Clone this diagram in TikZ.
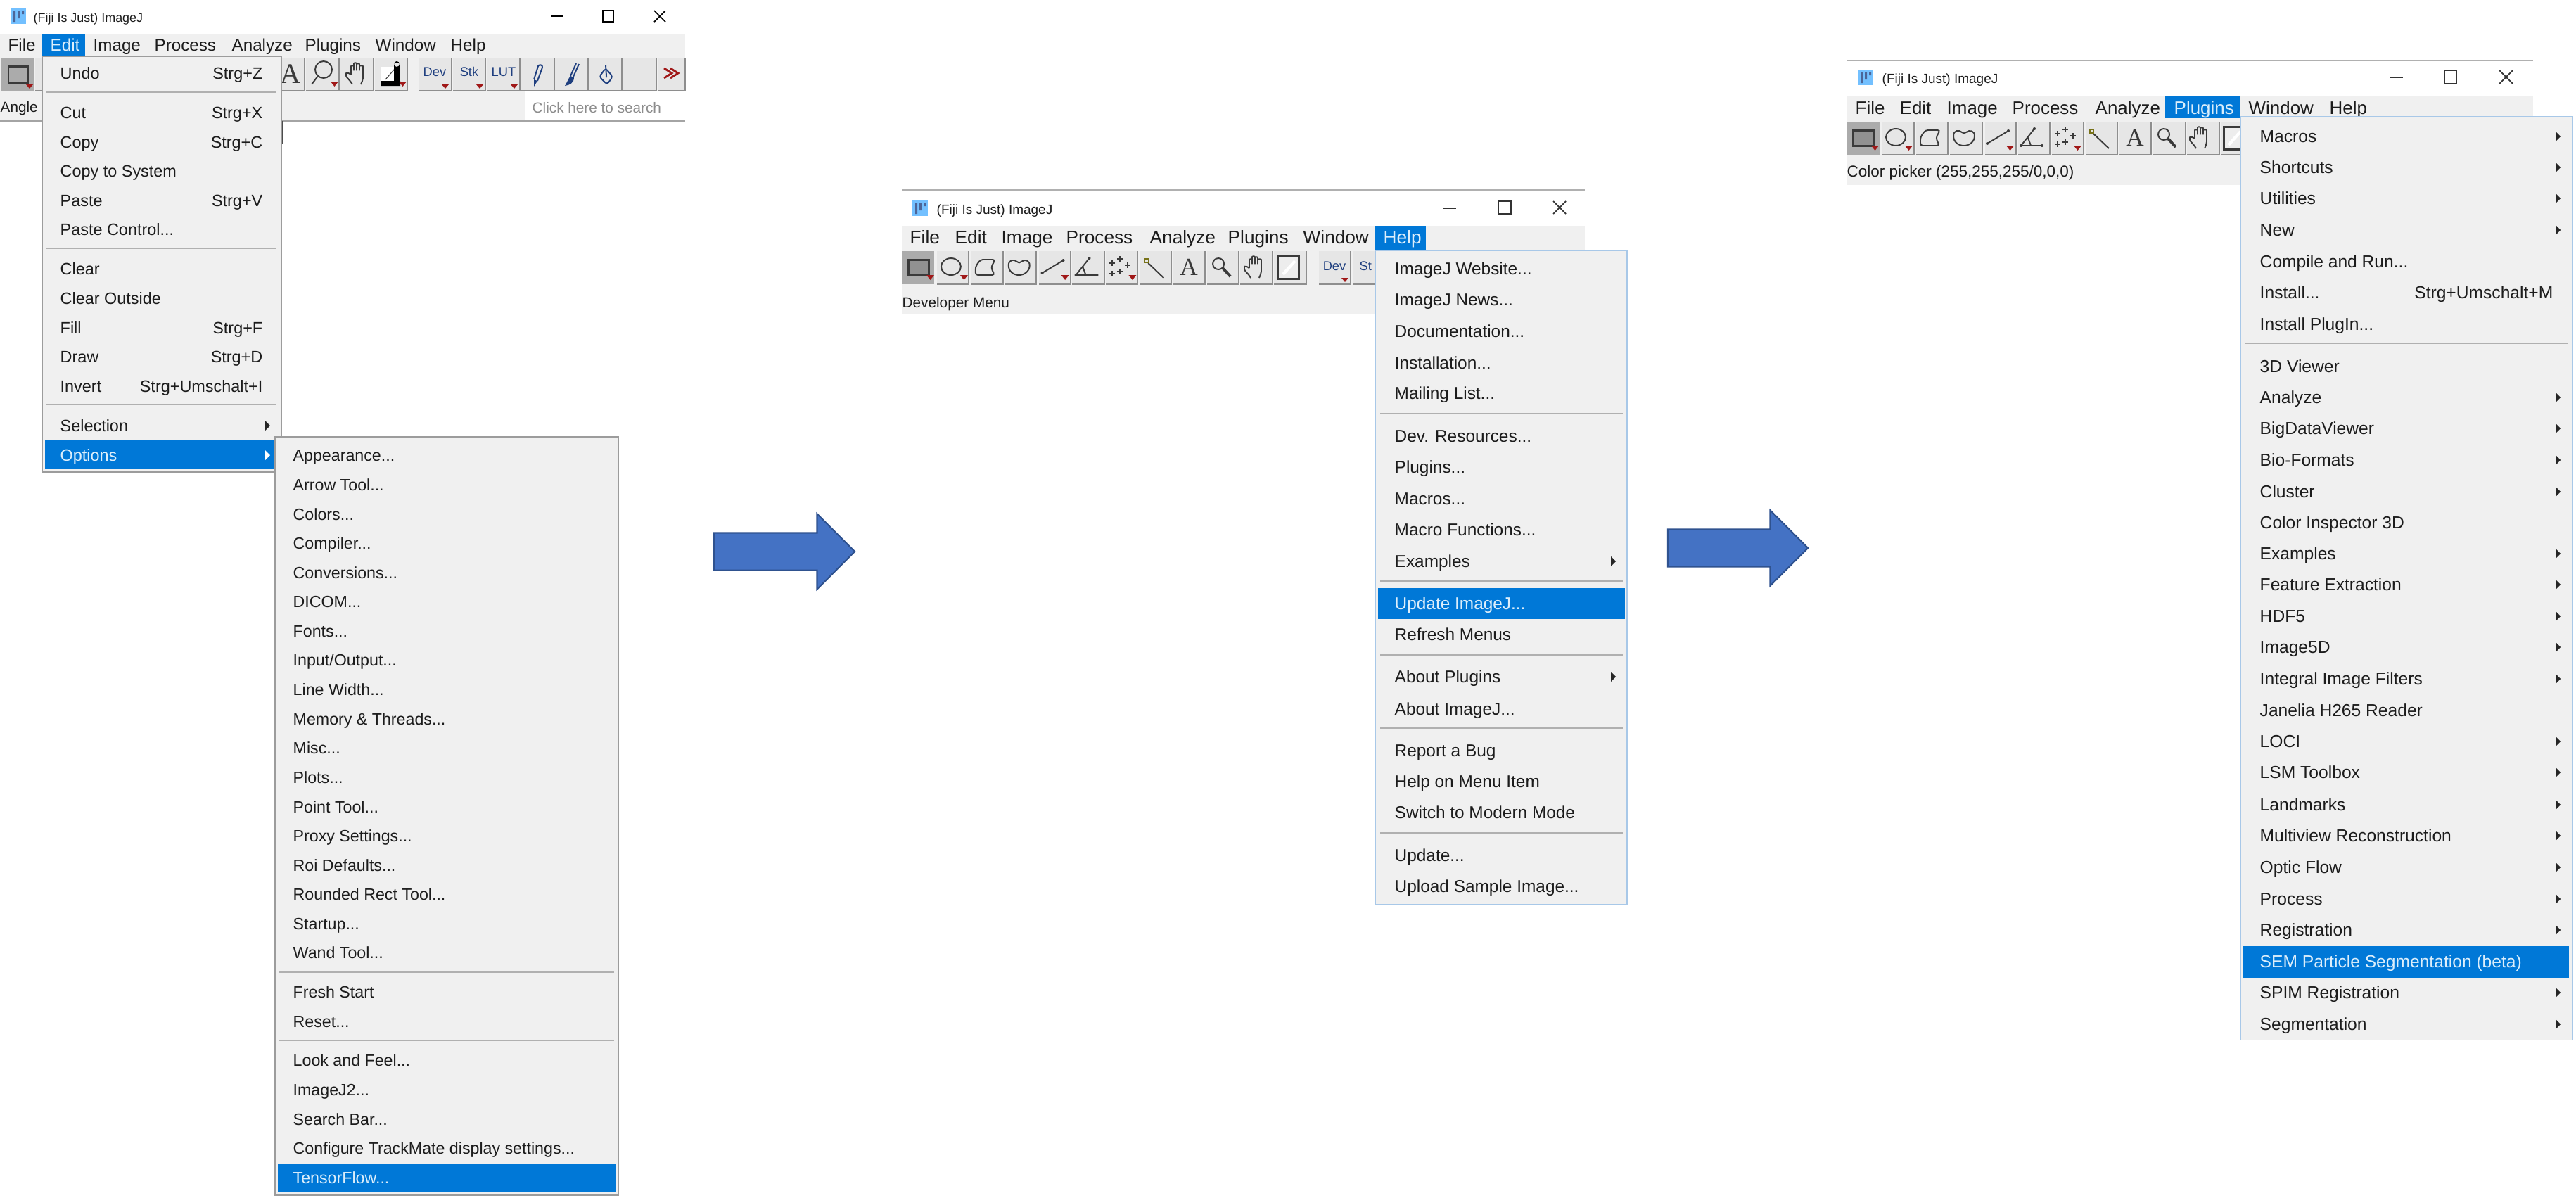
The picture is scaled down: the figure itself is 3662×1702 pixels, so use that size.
\documentclass[tikz,border=0pt]{standalone}
\usepackage{fontspec}
\setmainfont{Liberation Sans}
\newfontfamily\glyphfont{Liberation Serif}
\usetikzlibrary{shapes.arrows}

\definecolor{panelgray}{HTML}{F0F0F0}
\definecolor{btngray}{HTML}{E6E6E6}
\definecolor{btnedge}{HTML}{8E8E8E}
\definecolor{btnsel}{HTML}{ABABAB}
\definecolor{hotblue}{HTML}{0078D7}
\definecolor{hottext}{HTML}{DCEEFB}
\definecolor{inktext}{HTML}{1C1C1C}
\definecolor{icoink}{HTML}{3A3A3A}
\definecolor{navyink}{HTML}{1F3F7F}
\definecolor{redmark}{HTML}{A01818}
\definecolor{framegray}{HTML}{9C9C9C}
\definecolor{frameblue}{HTML}{A8C8E8}
\definecolor{arrowfill}{HTML}{4472C4}
\definecolor{arrowline}{HTML}{2F528F}

\tikzset{
  menuitem/.style={anchor=base west, inner sep=0pt, yshift=-0.085cm, text=inktext,
    font=\fontsize{#1}{8}\selectfont},
  keylabel/.style={menuitem=#1, anchor=base east},
  hot/.style={text=hottext},
  toollabel/.style={inner sep=0pt, text=navyink, font=\fontsize{5.2}{6}\selectfont},
  sepline/.style={draw=btnedge!70, line width=0.7pt},
  menuframe/.style={fill=panelgray, draw=#1, line width=0.6pt},
  icoline/.style={draw=icoink, line width=0.55pt},
  navyline/.style={draw=navyink, line width=0.55pt},
  bluearrow/.style={single arrow, anchor=tail, fill=arrowfill, draw=arrowline, line width=0.6pt,
    minimum height=#1, single arrow head extend=0.27cm,
    single arrow tip angle=90, single arrow head indent=0cm, inner xsep=0pt, inner ysep=0.255cm, outer sep=0pt},
  subarrow/.pic={\fill[black!85] (-3,-7) -- (4,0) -- (-3,7) -- cycle;},
  fijiico/.pic={
    \fill[blue!45!cyan!55!white] (-11,-11) rectangle (11,11);
    \fill[navyink!80] (-7,-8) rectangle (-4,8) (-1,-8) rectangle (2,3) (5,-8) rectangle (8,-3);},
  rectico/.pic={\draw[icoink, fill=btnsel!85!black, line width=0.85pt] (-14,-11) rectangle (15,11);
    \redmark},
  ovalico/.pic={\draw[icoline] (-1,-1) ellipse (14 and 12); \redmark},
  polyico/.pic={\draw[icoline, rounded corners=1pt] (-14,-1) -- (-7,-11) -- (14,-11) -- (8,0) -- (13,11) -- (-14,11) -- cycle;},
  freeico/.pic={\draw[icoline] (-15,-3) .. controls (-15,-11) and (-7,-12) .. (-3,-8)
    .. controls (-1,-6) and (1,-6) .. (3,-8) .. controls (8,-12) and (15,-10) .. (15,-3)
    .. controls (15,6) and (7,11) .. (0,11) .. controls (-8,11) and (-15,6) .. (-15,-3) -- cycle;},
  lineico/.pic={\draw[icoline] (-15,8) -- (15,-10); \fill[icoink] (-15,8) circle (2) (15,-10) circle (2); \redmark},
  angleico/.pic={\draw[icoline] (-15,11) -- (15,11) (-15,11) -- (4,-13) (-5,0) -- (-1,11);
    \fill[icoink] (-15,11) circle (2) (15,11) circle (2) (4,-13) circle (2);},
  ptsico/.pic={\foreach \px/\py in {-11/-6,0/-12,11/-3,-11/9,0/6}
      \draw[icoink, line width=0.55pt] (\px-4,\py) -- (\px+4,\py) (\px,\py-4) -- (\px,\py+4);
    \redmark},
  wandico/.pic={\draw[icoline] (-8,-6) -- (14,15);
    \draw[olive!80!black, line width=0.45pt] (-13,-12) rectangle (-8,-7);},
  lensico/.pic={\draw[icoline] (-4,-5) circle (8); \draw[icoink, line width=1.1pt] (2,1) -- (13,13);},
  handico/.pic={\draw[icoline, rounded corners=0.5pt] (-6,15) .. controls (-9,9) and (-15,5) .. (-15,1)
    .. controls (-15,-2) and (-10,-1) .. (-8,2) -- (-8,-9) .. controls (-8,-12) and (-4,-12) .. (-4,-9)
    -- (-4,-3) -- (-4,-13) .. controls (-4,-16) and (0,-16) .. (0,-13) -- (0,-3) -- (0,-12)
    .. controls (0,-15) and (4,-15) .. (4,-12) -- (4,-3) -- (4,-9) .. controls (4,-12) and (9,-12) .. (9,-9)
    -- (9,4) .. controls (9,9) and (7,12) .. (6,15);},
  pickico/.pic={\draw[icoink, fill=btngray!70!white, line width=0.85pt] (-15,-16) rectangle (15,16);
    \draw[white, line width=1.2pt] (-8,10) -- (9,-9);},
  biglensico/.pic={\draw[icoline] (2,-6) circle (12); \draw[icoline] (-6,3) -- (-15,15); \redmark},
  benchico/.pic={\fill[white] (-14,-10) rectangle (10,10);
    \draw[icoink, line width=0.3pt] (-7,8) -- (6,-7);
    \fill[black] (-14,10) rectangle (14,17) (5,-16) rectangle (13,17) (9,-14) circle (4); \redmark},
  penico/.pic={\draw[navyline] (-5,7) -- (1,-12) .. controls (2,-15) and (8,-14) .. (7,-10) -- (0,9);
    \fill[navyink] (-5,7) -- (0,9) -- (-5,17) -- cycle;},
  brushico/.pic={\draw[navyline] (-1,2) -- (7,-16) (3,3) -- (11,-15);
    \fill[navyink] (-1,2) -- (4,4) .. controls (4,12) and (-2,15) .. (-9,16) .. controls (-6,12) and (-5,7) .. (-1,2) -- cycle;},
  bucketico/.pic={\draw[navyline, rounded corners=1pt] (-9,3) -- (0,-9) -- (10,3) -- (2,14) -- cycle;
    \draw[navyline] (0,-14) -- (1,2); \fill[navyink] (1,3) circle (1.5);},
  moreico/.pic={\draw[redmark, line width=0.8pt] (-11,-7) -- (0,0) -- (-11,7) (-2,-7) -- (9,0) -- (-2,7);}
}
\newcommand{\redmark}{\fill[redmark] (12,11) -- (23,11) -- (17.5,18) -- cycle;}
\newcommand{\ddd}{...}
% row of tool buttons that windows two and three share
\newcommand{\toolrow}[3]{
  \foreach \n/\ic in {1/ovalico,2/polyico,3/freeico,4/lineico,5/angleico,6/ptsico,7/wandico,9/lensico,10/handico,11/pickico}
    \pic at ({#1+\n*#3},#2) {\ic};
  \pic at (#1,#2) {rectico};
}

\begin{document}
\begin{tikzpicture}[x=0.01cm,y=-0.01cm]
\useasboundingbox (0,0) rectangle (3662,1702);

% ---- first window
\fill[panelgray] (0,48) rectangle (974,172);
\fill[white] (747,130) rectangle (974,172);
\draw[btnedge!80, line width=0.6pt] (0,172) -- (974,172);
\pic at (26,23) {fijiico};
\node[menuitem=5.1] (titleA) at (47,23) {(Fiji Is Just) ImageJ};
\draw[black, line width=0.5pt] (783,23) -- (800,23);
\draw[black, line width=0.5pt] (857,15) rectangle (872,31);
\draw[black, line width=0.5pt] (930,15) -- (946,31) (946,15) -- (930,31);
\fill[btnsel] (2,82) rectangle (48,129);
\draw[icoink, fill=btnsel, line width=0.85pt] (12,94) rectangle (40,117);
\fill[redmark] (37,120) -- (47,120) -- (42,126) -- cycle;
\foreach \a/\b in {50/60,400/433,435/482,484/531,533/579,595/642,644/690,693/739,741/788,789/836,838/884,886/933,935/974}{
  \fill[btngray] (\a,82) rectangle (\b,129);
  \draw[btnedge, line width=0.5pt] (\b,82) -- (\b,129) -- (\a,129);
}
\node[inner sep=0pt, text=icoink, font=\glyphfont\fontsize{11.5}{12}\selectfont] (toolAchar) at (413,105) {A};
\pic at (458,105) {biglensico};
\pic at (507,105) {handico};
\pic at (555,105) {benchico};
\foreach \xx/\lab in {618/Dev,667/Stk,716/LUT}{
  \node[toollabel] (toolA\lab) at (\xx,102) {\lab};
  \fill[redmark] (\xx+10,120) -- (\xx+20,120) -- (\xx+15,126) -- cycle;
}
\pic at (764,106) {penico};
\pic at (812,106) {brushico};
\pic at (861,106) {bucketico};
\pic at (955,104) {moreico};
\node[menuitem=5.9] (angleA) at (0,151) {Angle};
\node[menuitem=5.9, text=black!45] (searchA) at (756,152) {Click here to search};
\fill[hotblue] (60,48) rectangle (121,79);
\foreach \xx/\lab in {11/File,132/Image,219/Process,329/Analyze,433/Plugins,533/Window,640/Help}
  \node[menuitem=6.88] (barA\lab) at (\xx,64) {\lab};
\node[menuitem=6.88, hot] (barAEdit) at (71,64) {Edit};

% edit menu
\draw[black!70, line width=0.6pt] (402,172) -- (402,205);
\draw[menuframe=framegray] (60,80) rectangle (400,671);
\foreach \y/\lab [count=\i] in {104/Undo,160/Cut,202/Copy,243/Copy to System,285/Paste,326/Paste Control\ddd,382/Clear,424/Clear Outside,466/Fill,507/Draw,549/Invert,605/Selection}
  \node[menuitem=6.66] (edit\i) at (85,\y) {\lab};
\foreach \y/\lab in {104/Strg+Z,160/Strg+X,202/Strg+C,285/Strg+V,466/Strg+F,507/Strg+D,549/Strg+Umschalt+I}
  \node[keylabel=6.66] (key\y) at (374,\y) {\lab};
\foreach \y in {131,353,575}
  \draw[sepline] (66,\y) -- (393,\y);
\pic at (380,605) {subarrow};
\fill[hotblue] (64,626) rectangle (392,667);
\node[menuitem=6.66, hot] (editOptions) at (85,647) {Options};
\fill[white] (377,640) -- (384,647) -- (377,654) -- cycle;

% options submenu
\draw[menuframe=framegray] (391,621) rectangle (879,1699);
\foreach \y/\lab [count=\i] in {647/Appearance\ddd,689/Arrow Tool\ddd,731/Colors\ddd,772/Compiler\ddd,814/Conversions\ddd,855/DICOM\ddd,897/Fonts\ddd,938/{Input/Output\ddd},980/Line Width\ddd,1022/Memory \& Threads\ddd,1063/Misc\ddd,1105/Plots\ddd,1147/Point Tool\ddd,1188/Proxy Settings\ddd,1230/Roi Defaults\ddd,1271/Rounded Rect Tool\ddd,1313/Startup\ddd,1354/Wand Tool\ddd,1410/Fresh Start,1452/Reset\ddd,1507/Look and Feel\ddd,1549/ImageJ2\ddd,1591/Search Bar\ddd,1632/Configure TrackMate display settings\ddd}
  \node[menuitem=6.6] (opt\i) at (416,\y) {\lab};
\foreach \y in {1382,1479}
  \draw[sepline] (397,\y) -- (873,\y);
\fill[hotblue] (395,1654) rectangle (875,1695);
\node[menuitem=6.6, hot] (optTensorFlow) at (416,1674) {TensorFlow\ddd};

% ---- second window
\draw[btnedge!70, line width=0.4pt] (1282,270) -- (2253,270);
\fill[panelgray] (1282,321) rectangle (2253,446);
\pic at (1308,296) {fijiico};
\node[menuitem=5.4] (titleB) at (1331,296) {(Fiji Is Just) ImageJ};
\draw[black!80, line width=0.5pt] (2052,296) -- (2070,296);
\draw[black!80, line width=0.5pt] (2130,286) rectangle (2148,304);
\draw[black!80, line width=0.5pt] (2208,286) -- (2226,304) (2226,286) -- (2208,304);
\fill[btnsel] (1282,357) rectangle (1328,404);
\foreach \a/\b in {1332/1377,1380/1426,1428/1473,1477/1522,1524/1570,1572/1617,1620/1665,1667/1713,1716/1761,1763/1809,1811/1857,1875/1920,1923/1955}{
  \fill[btngray] (\a,357) rectangle (\b,404);
  \draw[btnedge, line width=0.5pt] (\b,357) -- (\b,404) -- (\a,404);
}
\toolrow{1305}{380}{47.9}
\node[inner sep=0pt, text=icoink, font=\glyphfont\fontsize{10}{12}\selectfont] (toolBchar) at (1690,380) {A};
\node[toollabel] (toolBDev) at (1897,378) {Dev};
\fill[redmark] (1907,395) -- (1917,395) -- (1912,401) -- cycle;
\node[toollabel, anchor=west] (toolBSt) at (1932,378) {St};
\node[menuitem=5.9] (statusB) at (1282,429) {Developer Menu};
\fill[hotblue] (1955,321) rectangle (2027,357);
\foreach \xx/\lab in {1293/File,1357/Edit,1423/Image,1515/Process,1634/Analyze,1745/Plugins,1852/Window}
  \node[menuitem=7.45] (barB\lab) at (\xx,338) {\lab};
\node[menuitem=7.45, hot] (barBHelp) at (1966,338) {Help};

% help menu
\draw[menuframe=frameblue] (1955,356) rectangle (2313,1286);
\foreach \y/\lab [count=\i] in {382/ImageJ Website\ddd,426/ImageJ News\ddd,471/Documentation\ddd,516/Installation\ddd,559/Mailing List\ddd,620/Dev. Resources\ddd,664/Plugins\ddd,709/Macros\ddd,753/Macro Functions\ddd,798/Examples,902/Refresh Menus,962/About Plugins,1008/About ImageJ\ddd,1067/Report a Bug,1111/Help on Menu Item,1155/Switch to Modern Mode,1216/Update\ddd,1260/Upload Sample Image\ddd}
  \node[menuitem=6.94] (help\i) at (1982,\y) {\lab};
\foreach \y in {588,826,931,1035,1184}
  \draw[sepline] (1962,\y) -- (2307,\y);
\pic at (2293,798) {subarrow};
\pic at (2293,962) {subarrow};
\fill[hotblue] (1959,836) rectangle (2310,880);
\node[menuitem=6.94, hot] (helpUpdate) at (1982,858) {Update ImageJ\ddd};

% ---- third window
\draw[btnedge!70, line width=0.4pt] (2625,86) -- (3601,86);
\fill[panelgray] (2625,137) rectangle (3601,263);
\pic at (2652,110) {fijiico};
\node[menuitem=5.4] (titleC) at (2675,110) {(Fiji Is Just) ImageJ};
\draw[black!80, line width=0.5pt] (3397,110) -- (3416,110);
\draw[black!80, line width=0.5pt] (3475,100) rectangle (3492,119);
\draw[black!80, line width=0.5pt] (3553,100) -- (3572,119) (3572,100) -- (3553,119);
\fill[btnsel] (2625,173) rectangle (2672,220);
\foreach \a/\b in {2676/2721,2724/2769,2772/2818,2822/2866,2869/2914,2917/2962,2965/3010,3013/3058,3061/3107,3109/3155,3158/3185}{
  \fill[btngray] (\a,173) rectangle (\b,220);
  \draw[btnedge, line width=0.5pt] (\b,173) -- (\b,220) -- (\a,220);
}
\toolrow{2648}{196}{48}
\node[inner sep=0pt, text=icoink, font=\glyphfont\fontsize{10}{12}\selectfont] (toolCchar) at (3035,196) {A};
\node[menuitem=6.4] (statusC) at (2625,243) {Color picker (255,255,255/0,0,0)};
\fill[hotblue] (3078,137) rectangle (3184,168);
\foreach \xx/\lab in {2637/File,2700/Edit,2767/Image,2860/Process,2978/Analyze,3196/Window,3311/Help}
  \node[menuitem=7.37] (barC\lab) at (\xx,153.5) {\lab};
\node[menuitem=7.37, hot] (barCPlugins) at (3090,153.5) {Plugins};

% plugins menu, cut off at the lower edge
\fill[panelgray] (3185,166) rectangle (3657,1478);
\draw[frameblue, line width=0.6pt] (3185,1478) -- (3185,166) -- (3657,166) -- (3657,1478);
\foreach \y/\lab [count=\i] in {194/Macros,238/Shortcuts,282/Utilities,327/New,372/Compile and Run\ddd,416/Install\ddd,461/Install PlugIn\ddd,521/3D Viewer,565/Analyze,609/BigDataViewer,654/Bio-Formats,699/Cluster,743/Color Inspector 3D,787/Examples,831/Feature Extraction,876/HDF5,920/Image5D,965/Integral Image Filters,1010/Janelia H265 Reader,1054/LOCI,1098/LSM Toolbox,1144/Landmarks,1188/Multiview Reconstruction,1233/Optic Flow,1278/Process,1322/Registration,1411/SPIM Registration,1456/Segmentation}
  \node[menuitem=7] (plug\i) at (3212,\y) {\lab};
\node[keylabel=7] (keyInstall) at (3630,416) {Strg+Umschalt+M};
\draw[sepline] (3192,488) -- (3650,488);
\foreach \y in {194,238,282,327,565,609,654,699,787,831,876,920,965,1054,1098,1144,1188,1233,1278,1322,1411,1456}
  \pic at (3636,\y) {subarrow};
\fill[hotblue] (3189,1345) rectangle (3652,1390);
\node[menuitem=7, hot] (plugSEM) at (3212,1367) {SEM Particle Segmentation (beta)};

% ---- block arrows between the windows
\node[bluearrow=2cm] (arrowA) at (1015,784) {};
\node[bluearrow=1.99cm] (arrowB) at (2371,779) {};
\end{tikzpicture}
\end{document}
